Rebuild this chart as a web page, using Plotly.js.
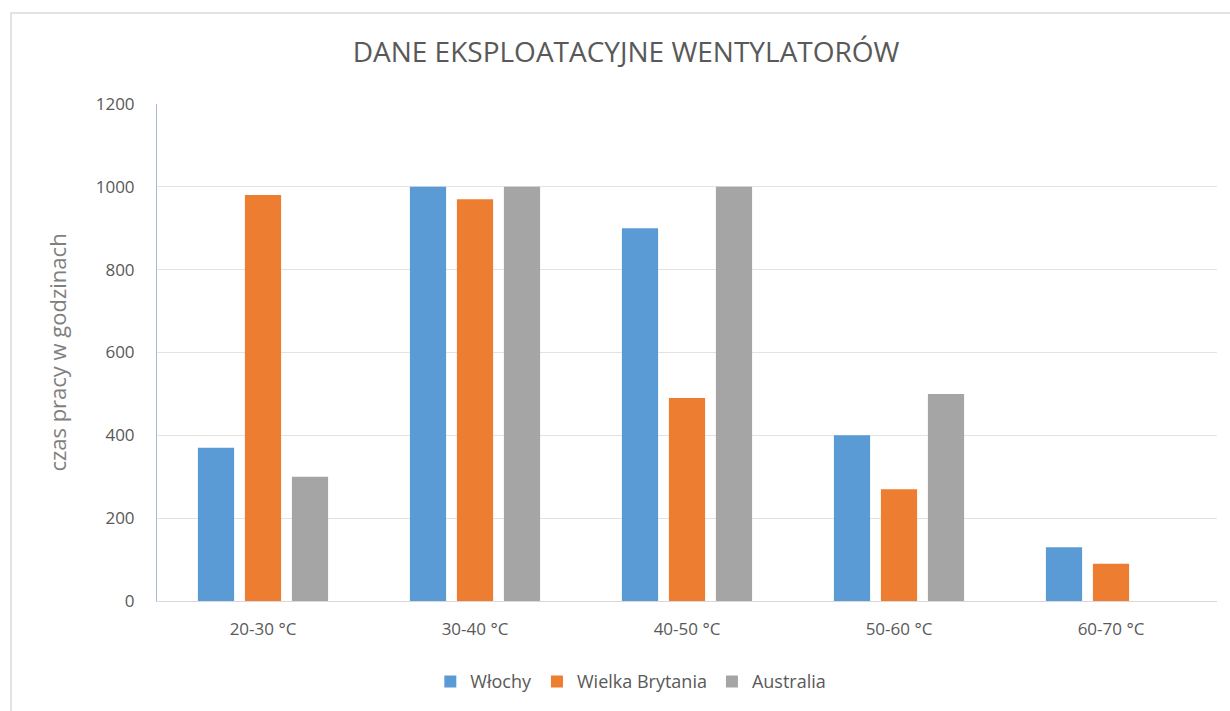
<!DOCTYPE html>
<html>
<head>
<meta charset="utf-8">
<script src="https://cdn.plot.ly/plotly-3.0.1.min.js"></script>
<style>
html,body{margin:0;padding:0;background:#fff;}
#wrap{position:relative;width:1230px;height:711px;overflow:hidden;}
#frame{position:absolute;left:10px;top:12px;width:1300px;height:800px;border-left:2px solid #e3e3e3;border-top:2px solid #e3e3e3;pointer-events:none;z-index:5;}
#chart{position:absolute;left:0;top:0;width:1230px;height:711px;}
</style>
</head>
<body>
<div id="wrap">
<div id="chart"></div>
<div id="frame"></div>
</div>
<script>
const categories = ["20-30 °C", "30-40 °C", "40-50 °C", "50-60 °C", "60-70 °C"];
const wlochy = [370, 1000, 900, 400, 130];
const wielkaBrytania = [980, 970, 490, 270, 90];
const australia = [300, 1000, 1000, 500, 0];
const seriesNames = ["Włochy", "Wielka Brytania", "Australia"];
const yTicks = [0, 200, 400, 600, 800, 1000, 1200];

const colors = ["#5b9bd5", "#ed7d31", "#a5a5a5"];
const series = [wlochy, wielkaBrytania, australia];

const traces = series.map((vals, i) => ({
  type: "bar",
  name: seriesNames[i],
  x: categories,
  y: vals,
  marker: {color: colors[i]},
  hoverinfo: "x+y+name"
}));

const font = "Open Sans, Noto Sans, sans-serif";
const layout = {
  width: 1230,
  height: 711,
  paper_bgcolor: "#ffffff",
  plot_bgcolor: "#ffffff",
  margin: {l: 157, r: 13, t: 104, b: 109},
  title: {
    text: "DANE EKSPLOATACYJNE WENTYLATORÓW",
    font: {family: font, size: 28, color: "#595959"},
    x: 0.509, xanchor: "center",
    y: 0.927, yanchor: "middle"
  },
  barmode: "group",
  bargap: 0.335,
  bargroupgap: 0.23,
  xaxis: {
    type: "category",
    tickfont: {family: font, size: 17, color: "#595959"},
    showgrid: false,
    showline: true,
    linecolor: "#d9d9d9",
    linewidth: 1,
    ticks: "",
    ticklabelstandoff: 13,
    fixedrange: true
  },
  yaxis: {
    range: [0, 1200],
    tickvals: yTicks,
    ticktext: yTicks.map(String),
    tickfont: {family: font, size: 17, color: "#595959"},
    gridcolor: "#e3e3e3",
    gridwidth: 1,
    showline: true,
    linecolor: "#a9bcd6",
    linewidth: 1,
    zeroline: false,
    ticks: "",
    ticklabelstandoff: 18,
    title: {
      text: "czas pracy w godzinach",
      font: {family: font, size: 22, color: "#7f7f7f"},
      standoff: 23
    },
    fixedrange: true
  },
  legend: {
    orientation: "h",
    x: 0.447, xanchor: "center",
    y: -0.16, yanchor: "middle",
    font: {family: font, size: 18, color: "#595959"},
    itemwidth: 30,
    traceorder: "normal"
  },
  showlegend: true
};

Plotly.newPlot("chart", traces, layout, {displayModeBar: false, staticPlot: false});
</script>
</body>
</html>
